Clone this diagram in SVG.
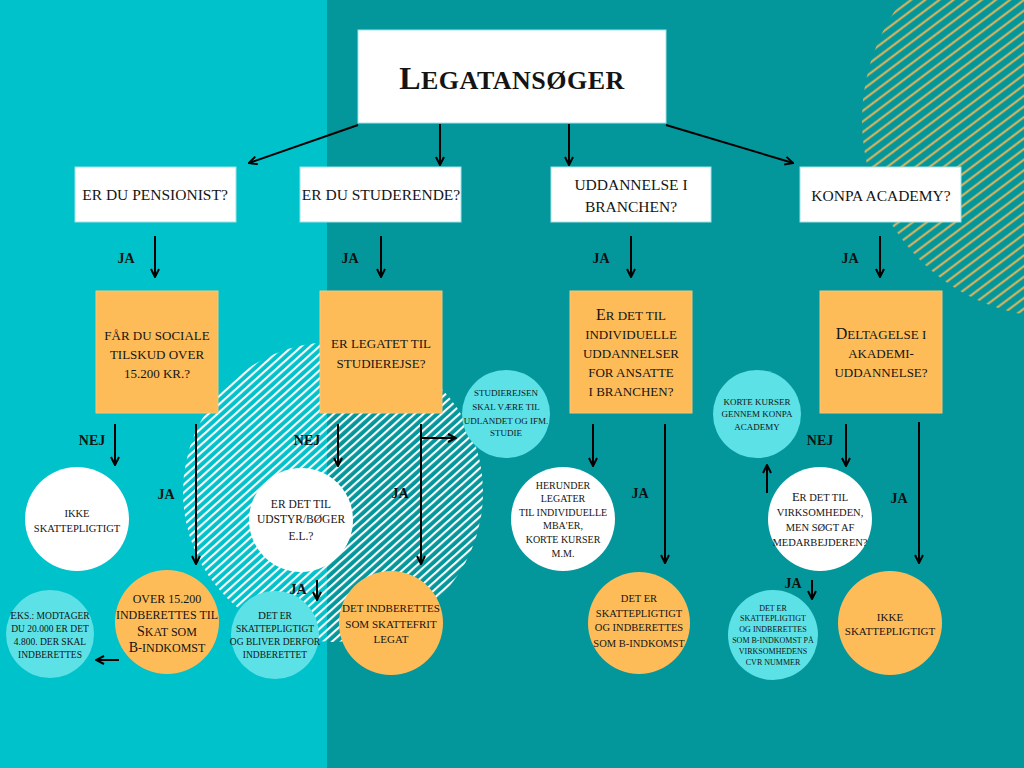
<svg xmlns="http://www.w3.org/2000/svg" width="1024" height="768" viewBox="0 0 1024 768">
<style>
.t{font-family:"Liberation Serif","Times New Roman",serif;fill:#141414;text-anchor:middle}
.lab{font-family:"Liberation Serif","Times New Roman",serif;font-weight:bold;font-size:14px;fill:#111;text-anchor:middle}
.wb{fill:#fff;stroke:#9fe3e6;stroke-width:1}
.ob{fill:#FEBC59;stroke:#f4c77c;stroke-width:1}
.wc{fill:#fff}
.oc{fill:#FEBC59}
.cc{fill:#5CE1E6}
.ar{stroke:#000;stroke-width:2;fill:none;marker-end:url(#ah)}
</style>
<defs>
<marker id="ah" viewBox="0 0 10 10" refX="9" refY="5" markerWidth="10" markerHeight="10" markerUnits="userSpaceOnUse" orient="auto">
<path d="M1,1 L9,5 L1,9" fill="none" stroke="#000" stroke-width="2"/>
</marker>
<pattern id="ws" width="6" height="6" patternUnits="userSpaceOnUse" patternTransform="rotate(-42)">
<rect x="0" y="2" width="6" height="2.1" fill="#fff"/>
</pattern>
<pattern id="os" width="8.5" height="8.5" patternUnits="userSpaceOnUse" patternTransform="rotate(-37)">
<rect x="0" y="3.3" width="8.5" height="1.9" fill="#F4B755"/>
</pattern>
<clipPath id="c1"><circle cx="333" cy="492" r="150"/></clipPath>
<clipPath id="c2"><circle cx="1060" cy="120" r="198"/></clipPath>
</defs>

<g id="background">
<rect x="0" y="0" width="1024" height="768" fill="#03979C"/>
<rect x="0" y="0" width="327" height="768" fill="#00C2CB"/>
<rect x="183" y="342" width="300" height="300" fill="url(#ws)" clip-path="url(#c1)"/>
<rect x="862" y="-80" width="200" height="400" fill="url(#os)" clip-path="url(#c2)"/>
</g>

<g id="connectors">
<path class="ar" d="M358,125 L249,163"/>
<path class="ar" d="M440,124 L440,165"/>
<path class="ar" d="M569,124 L569,165"/>
<path class="ar" d="M666,125 L793,163"/>
<path class="ar" d="M155,236 L155,277"/>
<path class="ar" d="M381,236 L381,277"/>
<path class="ar" d="M631,236 L631,277"/>
<path class="ar" d="M880,236 L880,277"/>
<path class="ar" d="M115,424 L115,465"/>
<path class="ar" d="M196,424 L196,564"/>
<path class="ar" d="M338,424 L338,466"/>
<path class="ar" d="M421,424 L421,564"/>
<path class="ar" d="M421,438 L456,438"/>
<path class="ar" d="M593,424 L593,466"/>
<path class="ar" d="M665,424 L665,563"/>
<path class="ar" d="M846,424 L846,466"/>
<path class="ar" d="M919,422 L919,563"/>
<path class="ar" d="M767,493 L767,465"/>
<path class="ar" d="M812,580 L812,599"/>
<path class="ar" d="M317,580 L317,600"/>
<path class="ar" d="M119,660 L96,660"/>
</g>

<g id="labels">
<text class="lab" x="126" y="263">JA</text>
<text class="lab" x="350" y="263">JA</text>
<text class="lab" x="601" y="263">JA</text>
<text class="lab" x="850" y="263">JA</text>
<text class="lab" x="92" y="445">NEJ</text>
<text class="lab" x="166" y="499">JA</text>
<text class="lab" x="307" y="445">NEJ</text>
<text class="lab" x="400" y="498">JA</text>
<text class="lab" x="298" y="594">JA</text>
<text class="lab" x="640" y="498">JA</text>
<text class="lab" x="820" y="445">NEJ</text>
<text class="lab" x="899" y="503">JA</text>
<text class="lab" x="793" y="588">JA</text>
</g>

<g id="n-title">
<rect class="wb" x="358" y="30" width="308" height="93"/>
<text class="t" x="512" y="89" font-size="26" font-weight="bold" letter-spacing="0.5"><tspan font-size="32">L</tspan>EGATANSØGER</text>
</g>

<g id="n-pensionist">
<rect class="wb" x="75" y="167" width="161" height="55"/>
<text class="t" x="155" y="200" font-size="15.5">ER DU PENSIONIST?</text>
</g>
<g id="n-studerende">
<rect class="wb" x="300" y="167" width="161" height="55"/>
<text class="t" x="381" y="200" font-size="15.5">ER DU STUDERENDE?</text>
</g>
<g id="n-uddannelse">
<rect class="wb" x="551" y="167" width="160" height="55"/>
<text class="t" x="631" y="190" font-size="15.5">UDDANNELSE I</text>
<text class="t" x="631" y="212" font-size="15.5">BRANCHEN?</text>
</g>
<g id="n-konpa">
<rect class="wb" x="800" y="167" width="161" height="55"/>
<text class="t" x="881" y="201" font-size="15.5">KONPA ACADEMY?</text>
</g>

<g id="n-sociale">
<rect class="ob" x="96" y="291" width="122" height="122"/>
<text class="t" font-size="13"><tspan x="157" y="339.5">FÅR DU SOCIALE</tspan><tspan x="157" y="358.5">TILSKUD OVER</tspan><tspan x="157" y="377.5">15.200 KR.?</tspan></text>
</g>
<g id="n-studierejse">
<rect class="ob" x="320" y="291" width="122" height="122"/>
<text class="t" font-size="13"><tspan x="381" y="347.5">ER LEGATET TIL</tspan><tspan x="381" y="367.5">STUDIEREJSE?</tspan></text>
</g>
<g id="n-individuelle">
<rect class="ob" x="570" y="291" width="122" height="122"/>
<text class="t" font-size="13"><tspan x="631" y="320"><tspan font-size="16">E</tspan>R DET TIL</tspan><tspan x="631" y="339">INDIVIDUELLE</tspan><tspan x="631" y="358">UDDANNELSER</tspan><tspan x="631" y="377">FOR ANSATTE</tspan><tspan x="631" y="396">I BRANCHEN?</tspan></text>
</g>
<g id="n-akademi">
<rect class="ob" x="820" y="291" width="122" height="122"/>
<text class="t" font-size="13"><tspan x="881" y="339"><tspan font-size="16">D</tspan>ELTAGELSE I</tspan><tspan x="881" y="358">AKADEMI-</tspan><tspan x="881" y="377">UDDANNELSE?</tspan></text>
</g>

<g id="n-ikke1">
<circle class="wc" cx="77" cy="519" r="52"/>
<text class="t" font-size="10.5"><tspan x="77" y="517">IKKE</tspan><tspan x="77" y="532">SKATTEPLIGTIGT</tspan></text>
</g>
<g id="n-over">
<circle class="oc" cx="167" cy="622" r="52"/>
<text class="t" font-size="12"><tspan x="167" y="603">OVER 15.200</tspan><tspan x="167" y="619">INDBERETTES TIL</tspan><tspan x="167" y="636"><tspan font-size="14">S</tspan>KAT SOM</tspan><tspan x="167" y="652"><tspan font-size="14">B</tspan>-INDKOMST</tspan></text>
</g>
<g id="n-eks">
<circle class="cc" cx="50" cy="634" r="44"/>
<text class="t" font-size="9.5"><tspan x="50" y="618.5"><tspan font-size="11">E</tspan>KS.: MODTAGER</tspan><tspan x="50" y="631.5">DU 20.000 ER DET</tspan><tspan x="50" y="644.5">4.800. DER SKAL</tspan><tspan x="50" y="657.5">INDBERETTES</tspan></text>
</g>
<g id="n-udstyr">
<circle class="wc" cx="301" cy="520" r="52"/>
<text class="t" font-size="11.5"><tspan x="301" y="508">ER DET TIL</tspan><tspan x="301" y="523">UDSTYR/BØGER</tspan><tspan x="301" y="540">E.L.?</tspan></text>
</g>
<g id="n-derfor">
<circle class="cc" cx="275" cy="635" r="44"/>
<text class="t" font-size="9.5"><tspan x="275" y="618.5"><tspan font-size="11">D</tspan>ET ER</tspan><tspan x="275" y="631.5">SKATTEPLIGTIGT</tspan><tspan x="275" y="644.5">OG BLIVER DERFOR</tspan><tspan x="275" y="657.5">INDBERETTET</tspan></text>
</g>
<g id="n-skattefrit">
<circle class="oc" cx="391" cy="623" r="52"/>
<text class="t" font-size="11"><tspan x="391" y="612">DET INDBERETTES</tspan><tspan x="391" y="628">SOM SKATTEFRIT</tspan><tspan x="391" y="643">LEGAT</tspan></text>
</g>
<g id="n-udlandet">
<circle class="cc" cx="506" cy="414" r="44"/>
<text class="t" font-size="9"><tspan x="506" y="396">STUDIEREJSEN</tspan><tspan x="506" y="410">SKAL VÆRE TIL</tspan><tspan x="506" y="424">UDLANDET OG IFM.</tspan><tspan x="506" y="436">STUDIE</tspan></text>
</g>
<g id="n-herunder">
<circle class="wc" cx="563" cy="519" r="52"/>
<text class="t" font-size="10"><tspan x="563" y="488.5">HERUNDER</tspan><tspan x="563" y="501.5">LEGATER</tspan><tspan x="563" y="515.5">TIL INDIVIDUELLE</tspan><tspan x="563" y="528.5">MBA'ER,</tspan><tspan x="563" y="542.5">KORTE KURSER</tspan><tspan x="563" y="556.5">M.M.</tspan></text>
</g>
<g id="n-bindkomst">
<circle class="oc" cx="639" cy="623" r="51"/>
<text class="t" font-size="10.5"><tspan x="639" y="602">DET ER</tspan><tspan x="639" y="617">SKATTEPLIGTIGT</tspan><tspan x="639" y="631">OG INDBERETTES</tspan><tspan x="639" y="647">SOM B-INDKOMST</tspan></text>
</g>
<g id="n-kortekurser">
<circle class="cc" cx="757" cy="414" r="44"/>
<text class="t" font-size="9"><tspan x="757" y="405">KORTE KURSER</tspan><tspan x="757" y="417">GENNEM KONPA</tspan><tspan x="757" y="430">ACADEMY</tspan></text>
</g>
<g id="n-virksomheden">
<circle class="wc" cx="820" cy="519" r="52"/>
<text class="t" font-size="10.5"><tspan x="820" y="501"><tspan font-size="12.5">E</tspan>R DET TIL</tspan><tspan x="820" y="516">VIRKSOMHEDEN,</tspan><tspan x="820" y="531">MEN SØGT AF</tspan><tspan x="820" y="546">MEDARBEJDEREN?</tspan></text>
</g>
<g id="n-cvr">
<circle class="cc" cx="773" cy="635" r="45"/>
<text class="t" font-size="8"><tspan x="773" y="611">DET ER</tspan><tspan x="773" y="621">SKATTEPLIGTIGT</tspan><tspan x="773" y="632">OG INDBERETTES</tspan><tspan x="773" y="643">SOM B-INDKOMST PÅ</tspan><tspan x="773" y="654">VIRKSOMHEDENS</tspan><tspan x="773" y="665">CVR NUMMER</tspan></text>
</g>
<g id="n-ikke2">
<circle class="oc" cx="890" cy="623" r="52"/>
<text class="t" font-size="11"><tspan x="890" y="621">IKKE</tspan><tspan x="890" y="635">SKATTEPLIGTIGT</tspan></text>
</g>
</svg>
